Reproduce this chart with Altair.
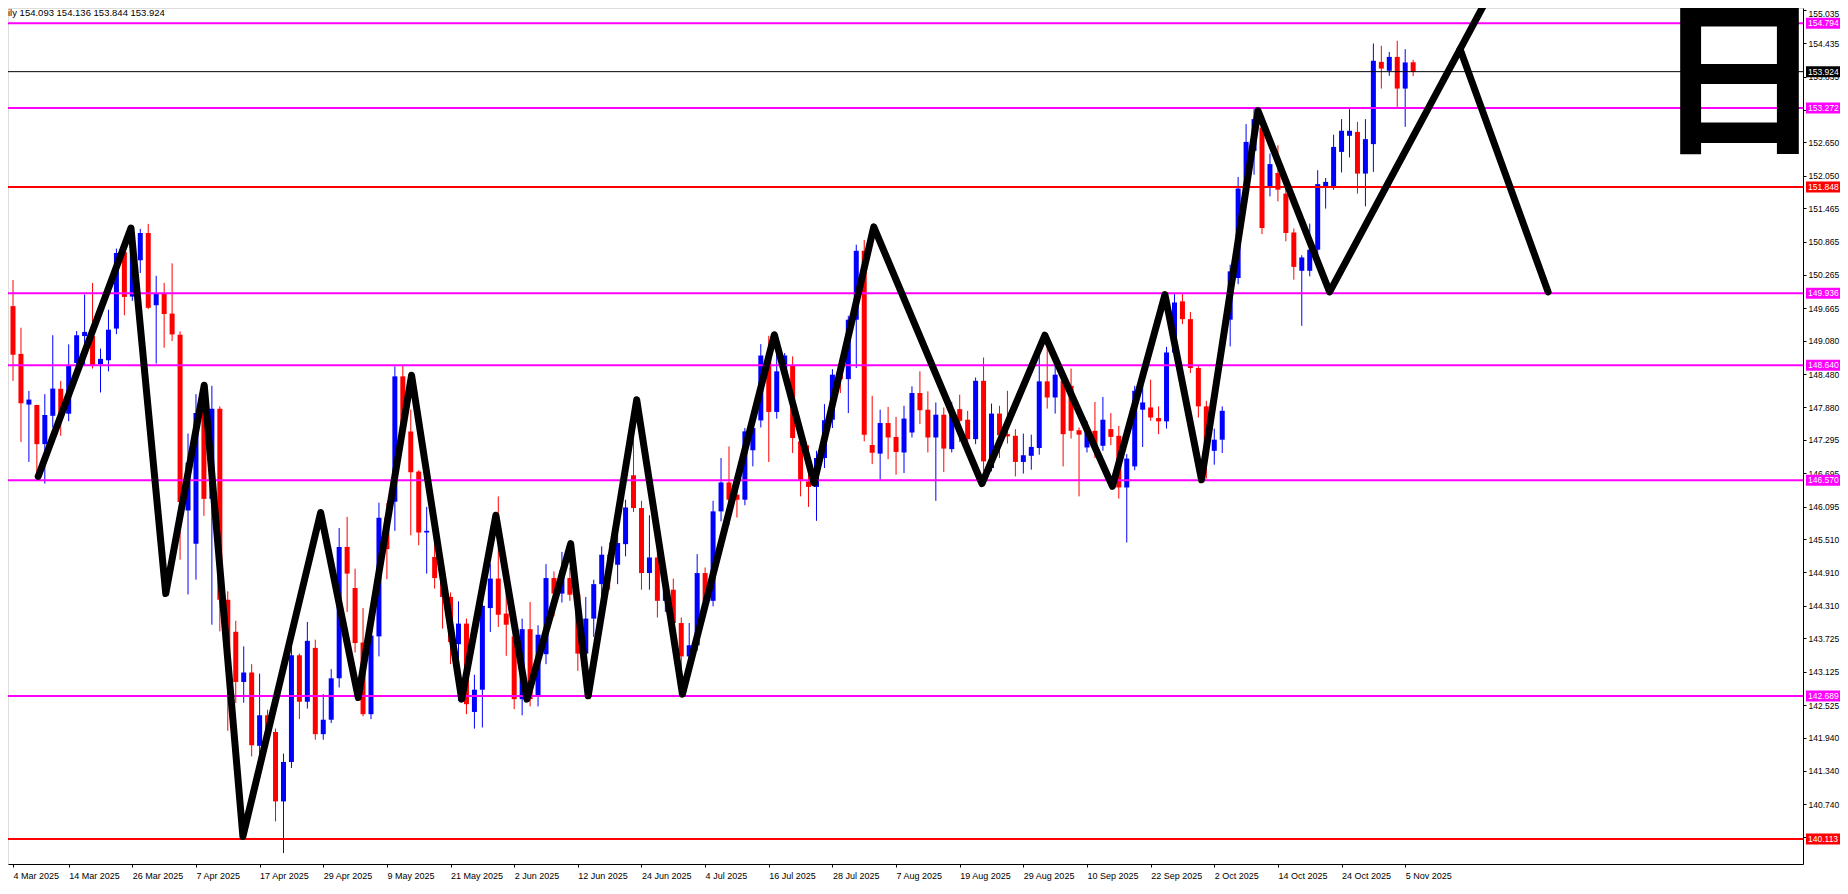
import altair as alt
import pandas as pd

# ---------------- data ----------------
opens = [149.465, 149.704, 148.844, 147.932, 147.925, 147.22, 147.73, 148.216, 147.768, 148.68,
         149.165, 149.165, 148.66, 148.73, 149.30, 150.675, 149.876, 150.53, 151.02, 149.72,
         149.928, 149.57, 149.188, 146.026, 145.428, 147.93, 146.235, 147.857, 144.419, 143.843,
         142.94, 143.11, 141.79, 142.34, 142.04, 140.79, 141.5, 143.42, 142.584, 143.553,
         142.0, 142.26, 143.005, 145.37, 144.63, 143.65, 142.36, 143.76, 145.9, 146.184,
         148.44, 147.448, 146.726, 145.63, 145.19, 144.80, 144.47, 143.62, 143.99, 142.40,
         142.80, 144.27, 144.80, 144.17, 143.76, 142.63, 143.89, 142.69, 143.44, 144.81,
         144.53, 144.81, 144.52, 143.45, 144.08, 144.70, 145.23, 145.05, 145.42, 146.66,
         146.07, 144.90, 145.18, 144.40, 144.60, 144.00, 143.40, 143.60, 144.90, 144.40,
         146.01, 146.53, 146.31, 146.22, 147.11, 147.647, 148.815, 147.80, 148.53, 148.64,
         147.27, 146.55, 146.45, 146.97, 147.66, 148.47, 148.39, 149.46, 150.70, 147.205,
         147.05, 147.60, 147.35, 147.07, 147.43, 148.14, 147.84, 147.34, 147.75, 147.13,
         147.85, 147.66, 147.31, 148.36, 146.79, 147.77, 147.40, 147.37, 146.90, 147.01,
         147.15, 148.35, 148.06, 148.36, 148.27, 147.47, 147.16, 147.46, 147.19, 147.49,
         147.37, 146.44, 146.82, 147.84, 147.88, 147.69, 147.63, 148.87, 149.79, 149.47,
         148.59, 147.90, 147.10, 147.30, 149.46, 150.21, 151.82, 152.50, 152.92, 151.85,
         152.10, 151.73, 151.03, 150.34, 150.34, 150.72, 151.86, 151.86, 152.48, 152.77,
         152.84, 152.09, 152.62, 154.10, 153.94, 154.19, 153.62, 154.093]
highs = [149.876, 150.175, 149.315, 148.179, 147.93, 148.12, 149.18, 148.358, 149.016, 149.255,
         149.913, 150.12, 148.94, 149.64, 150.74, 150.70, 151.124, 151.094, 151.184, 150.25,
         150.122, 150.474, 149.25, 147.41, 148.12, 148.2, 148.27, 147.9, 144.57, 144.04,
         143.58, 143.26, 143.09, 142.44, 142.1, 141.65, 143.63, 143.45, 144.02, 143.7,
         142.72, 143.17, 145.71, 145.91, 144.98, 144.27, 143.79, 146.166, 146.16, 148.62,
         148.65, 147.84, 146.75, 146.09, 145.49, 145.1, 144.55, 144.39, 144.08, 143.07,
         144.44, 145.07, 146.28, 144.6, 143.9, 144.08, 144.38, 143.96, 145.06, 144.93,
         145.28, 145.0, 144.7, 144.47, 144.78, 145.38, 145.45, 145.6, 146.22, 147.95,
         146.2, 145.94, 145.3, 144.9, 144.8, 144.1, 144.0, 145.24, 145.0, 146.2,
         146.97, 147.18, 146.5, 147.51, 147.57, 149.02, 149.17, 148.86, 148.86, 148.8,
         147.4, 147.2, 147.1, 147.94, 148.57, 148.56, 149.53, 150.81, 150.895, 148.09,
         147.84, 147.89, 147.71, 147.91, 148.26, 148.53, 148.17, 147.97, 147.88, 147.98,
         148.11, 147.82, 148.42, 148.78, 147.95, 147.91, 148.18, 147.49, 147.41, 147.39,
         148.94, 148.99, 148.64, 148.47, 148.58, 147.52, 147.64, 147.98, 148.07, 147.78,
         147.55, 147.04, 148.27, 148.64, 148.38, 147.9, 148.97, 149.92, 149.92, 149.60,
         148.63, 148.0, 147.5, 147.9, 150.45, 152.03, 152.98, 153.25, 153.16, 152.45,
         152.60, 151.85, 151.1, 150.62, 151.19, 152.15, 152.01, 152.79, 153.07, 153.25,
         153.02, 153.07, 154.43, 154.39, 154.28, 154.48, 154.33, 154.136]
lows = [148.059, 148.358, 147.259, 146.90, 146.66, 146.51, 147.52, 147.37, 147.633, 148.5,
        148.64, 148.58, 148.15, 148.53, 149.2, 149.54, 149.80, 150.3, 149.65, 148.67,
        148.956, 149.076, 145.14, 144.516, 144.78, 145.93, 143.97, 143.85, 142.06, 142.56,
        142.566, 141.6, 141.6, 141.9, 140.43, 139.86, 141.39, 142.27, 142.46, 141.9,
        141.9, 142.2, 142.84, 144.2, 143.47, 142.32, 142.27, 143.40, 144.79, 145.66,
        147.3, 145.58, 145.40, 144.89, 144.62, 143.9, 143.26, 142.60, 142.36, 142.1,
        142.12, 143.84, 143.93, 143.41, 142.45, 142.34, 142.5, 142.5, 143.26, 144.12,
        144.37, 144.4, 143.14, 143.3, 143.75, 144.35, 144.6, 144.7, 145.2, 146.0,
        144.6, 144.6, 144.1, 144.2, 143.8, 142.7, 143.2, 143.5, 144.2, 144.3,
        145.83, 145.76, 145.9, 146.12, 146.82, 147.52, 146.90, 147.68, 148.4, 147.06,
        146.28, 146.09, 145.84, 146.79, 147.51, 148.14, 147.78, 148.59, 147.27, 146.86,
        146.58, 146.95, 146.67, 146.70, 147.34, 147.58, 147.07, 146.20, 146.72, 147.07,
        147.26, 147.22, 147.22, 146.73, 146.73, 146.97, 147.23, 146.64, 146.69, 146.76,
        147.03, 147.86, 147.77, 146.82, 147.32, 146.28, 147.07, 146.97, 147.10, 147.20,
        146.24, 145.45, 146.75, 147.17, 147.64, 147.4, 147.5, 148.75, 149.38, 148.5,
        147.7, 146.6, 146.85, 147.06, 148.98, 150.1, 151.6, 152.07, 151.0, 151.68,
        151.59, 150.87, 150.18, 149.35, 150.24, 150.6, 151.46, 151.80, 152.11, 152.38,
        151.73, 151.50, 152.12, 153.62, 153.85, 153.29, 152.93, 153.844]
closes = [149.689, 148.829, 147.955, 148.022, 147.22, 147.745, 148.22, 147.745, 148.627, 149.18,
          149.24, 148.64, 148.755, 149.28, 150.66, 149.87, 150.997, 151.02, 149.674, 149.928,
          149.562, 149.195, 146.18, 146.886, 147.782, 146.235, 147.857, 144.42, 143.49, 142.94,
          143.11, 141.8, 142.34, 142.06, 140.79, 141.5, 143.42, 142.584, 143.68, 142.0,
          142.26, 143.005, 145.37, 144.89, 143.64, 142.36, 143.775, 145.895, 145.33, 148.44,
          147.45, 146.714, 145.63, 145.66, 144.81, 144.47, 143.66, 143.99, 142.54, 142.80,
          144.31, 144.80, 144.15, 143.97, 142.63, 143.89, 142.63, 143.79, 144.81, 144.53,
          144.95, 144.51, 143.45, 144.08, 144.70, 145.23, 145.05, 145.44, 146.08, 146.07,
          144.90, 145.18, 144.40, 144.60, 144.00, 143.40, 143.60, 144.90, 144.40, 146.01,
          146.53, 146.22, 146.22, 147.45, 147.51, 148.815, 147.80, 148.53, 148.815, 147.33,
          146.58, 146.45, 146.97, 147.65, 148.47, 148.39, 149.46, 150.70, 147.39, 147.065,
          147.60, 147.34, 147.08, 147.68, 148.14, 147.83, 147.34, 147.75, 147.14, 147.82,
          147.64, 147.31, 148.36, 146.91, 147.77, 147.38, 147.36, 146.90, 147.02, 147.17,
          148.35, 148.06, 148.47, 147.40, 147.46, 147.39, 147.45, 147.14, 147.66, 147.35,
          146.44, 146.96, 148.18, 147.97, 147.70, 147.63, 148.87, 149.77, 149.47, 148.59,
          147.90, 147.10, 147.30, 147.82, 150.33, 151.82, 152.66, 153.07, 151.11, 152.26,
          151.80, 151.02, 150.41, 150.58, 150.72, 151.90, 151.94, 152.57, 152.86, 152.86,
          152.09, 152.71, 154.12, 153.98, 154.19, 153.62, 154.09, 153.924]

tick_labels = ["4 Mar 2025", "14 Mar 2025", "26 Mar 2025", "7 Apr 2025", "17 Apr 2025",
               "29 Apr 2025", "9 May 2025", "21 May 2025", "2 Jun 2025", "12 Jun 2025",
               "24 Jun 2025", "4 Jul 2025", "16 Jul 2025", "28 Jul 2025", "7 Aug 2025",
               "19 Aug 2025", "29 Aug 2025", "10 Sep 2025", "22 Sep 2025", "2 Oct 2025",
               "14 Oct 2025", "24 Oct 2025", "5 Nov 2025"]
tick_bars = [0, 8, 16, 24, 32, 40, 48, 56, 64, 72, 80, 88, 96, 104, 112,
             120, 128, 136, 144, 152, 160, 168, 176]

y_ticks = [155.035, 154.435, 153.835, 153.235, 152.650, 152.050, 151.465, 150.865,
           150.265, 149.665, 149.080, 148.480, 147.880, 147.295, 146.695, 146.095,
           145.510, 144.910, 144.310, 143.725, 143.125, 142.525, 141.940, 141.340,
           140.740, 140.155, 139.555]

level_prices = [154.794, 153.272, 151.848, 149.936, 148.640, 146.570, 142.689, 140.113]
level_kinds = ["magenta", "magenta", "red", "magenta", "magenta", "magenta", "magenta", "red"]
current_price = 153.924

zig_bars = [4.17, 15.83, 20.2, 25.04, 29.9, 39.67, 44.4, 51.1, 57.4, 61.7, 65.6, 71.1,
            73.3, 79.4, 85.15, 96.7, 101.7, 109.2, 122.8, 130.7, 139.2, 145.8, 150.4,
            157.5, 166.5, 182.9, 193.96]
zig_prices = [146.64, 151.11, 144.53, 148.28, 140.16, 145.99, 142.66, 148.46, 142.63,
              145.94, 142.63, 145.43, 142.69, 148.02, 142.72, 149.19, 146.52, 151.13,
              146.51, 149.18, 146.46, 149.91, 146.58, 153.22, 149.96, 154.33, 149.96]
ext_bars = [182.9, 188.0]
ext_prices = [154.33, 155.69]

header_text = "ily  154.093 154.136 153.844 153.924"
corner_glyph = "日"

# ---------------- layout / style ----------------
X_MIN, X_MAX = 1, 225.375
Y_MAX = 155.07
W, H = 1795, 856
PAD_RIGHT, PAD_BOTTOM = 37, 18
Y_MIN = Y_MAX - H / 55.56
FONT = "Liberation Sans"
LABEL_SIZE = 8.5
PALETTE = {"up": "#0000FF", "down": "#FF0000", "magenta": "#FF00FF",
           "red": "#FF0000", "black": "#000000"}

candles = pd.DataFrame({
    "idx": list(range(len(opens))),
    "open": opens, "high": highs, "low": lows, "close": closes,
})
candles["hex"] = [PALETTE["up"] if c >= o else PALETTE["down"] for o, c in zip(opens, closes)]

tick_vals = [max(v, X_MIN) for v in tick_bars]
label_expr = "''"
for v, lab in reversed(list(zip(tick_vals, tick_labels))):
    label_expr = f"datum.value == {v} ? '{lab}' : " + label_expr

x_axis = alt.Axis(values=tick_vals, labelExpr=label_expr, labelAlign="left",
                  labelFlush=False, labelOverlap=False, tickSize=3, labelPadding=4,
                  domainColor="black", tickColor="black", labelColor="black",
                  labelFont=FONT, labelFontSize=9, grid=False, title=None,
                  labelBaseline="top")
y_axis = alt.Axis(orient="right", values=y_ticks, format=".3f", tickSize=3,
                  labelPadding=2, domainColor="black", tickColor="black",
                  labelColor="black", labelFont=FONT, labelFontSize=LABEL_SIZE, grid=False,
                  title=None, labelOverlap=False, labelFlush=False,
                  labelBaseline={"condition": {"test": f"datum.value > {Y_MAX - 0.06}",
                                               "value": "top"},
                                 "value": "middle"})

x_scale = alt.Scale(domain=[X_MIN, X_MAX], nice=False, zero=False)
y_scale = alt.Scale(domain=[Y_MIN, Y_MAX], nice=False, zero=False)


def X(field):
    return alt.X(f"{field}:Q", scale=x_scale, axis=x_axis)


def Y(field):
    return alt.Y(f"{field}:Q", scale=y_scale, axis=y_axis)


hex_color = alt.Color("hex:N", scale=None, legend=None)

base = alt.Chart(candles)
wicks = base.mark_rule(strokeWidth=1, clip=True).encode(
    x=X("idx"), y=Y("low"), y2="high", color=hex_color)
bodies = base.mark_bar(size=5, clip=True).encode(
    x=X("idx"), y=Y("open"), y2="close", color=hex_color)

levels = pd.DataFrame({"price": level_prices, "kind": level_kinds})
levels["hex"] = [PALETTE[k] for k in level_kinds]
level_rules = alt.Chart(levels).mark_rule(strokeWidth=2).encode(
    y=Y("price"), color=hex_color)

cur = pd.DataFrame({"price": [current_price], "kind": ["black"], "hex": [PALETTE["black"]]})
cur_rule = alt.Chart(cur).mark_rule(strokeWidth=1).encode(y=Y("price"), color=hex_color)

zig = pd.DataFrame({"idx": zig_bars, "price": zig_prices, "order": list(range(len(zig_bars)))})
zig_line = alt.Chart(zig).mark_line(color="black", strokeWidth=7, strokeJoin="round",
                                    strokeCap="round", clip=True).encode(
    x=X("idx"), y=Y("price"), order="order:Q")
ext = pd.DataFrame({"idx": ext_bars, "price": ext_prices, "order": [0, 1]})
ext_line = alt.Chart(ext).mark_line(color="black", strokeWidth=7, strokeCap="round",
                                    clip=True).encode(
    x=X("idx"), y=Y("price"), order="order:Q")

# price tags on the right axis
tags = pd.concat([levels, cur], ignore_index=True)
tags["label"] = [f"{p:.3f}" for p in tags["price"]]
box_half = 5.5 / 55.56
tag_boxes = alt.Chart(tags).transform_calculate(
    top=f"datum.price + {box_half}", bot=f"datum.price - {box_half}"
).mark_rect().encode(
    x=alt.value(W + 3), x2=alt.value(W + PAD_RIGHT), y=Y("top"), y2="bot", color=hex_color)
tag_text = alt.Chart(tags).mark_text(align="left", baseline="middle", font=FONT,
                                     fontSize=LABEL_SIZE, color="white").encode(
    x=alt.value(W + 5), y=Y("price"), text="label:N")

header = alt.Chart(pd.DataFrame({"t": [header_text]})).mark_text(
    align="left", baseline="top", font=FONT, fontSize=9.5, color="black"
).encode(x=alt.value(0), y=alt.value(0), text="t:N")

glyph = alt.Chart(pd.DataFrame({"t": [corner_glyph]})).mark_text(
    align="center", baseline="alphabetic", font="Noto Sans CJK JP", fontWeight="bold",
    fontSize=170, color="black"
).encode(x=alt.value(1731), y=alt.value(133), text="t:N")

chart = alt.layer(
    wicks, bodies, level_rules, cur_rule, zig_line, ext_line, glyph,
    tag_boxes, tag_text, header
).properties(
    width=W, height=H,
    autosize=alt.AutoSizeParams(type="none"),
    padding={"left": 0, "top": 0, "right": PAD_RIGHT, "bottom": PAD_BOTTOM},
).configure_view(strokeWidth=0).configure(background="white")

chart.save("out.html", embed_options={"renderer": "svg", "actions": False})
